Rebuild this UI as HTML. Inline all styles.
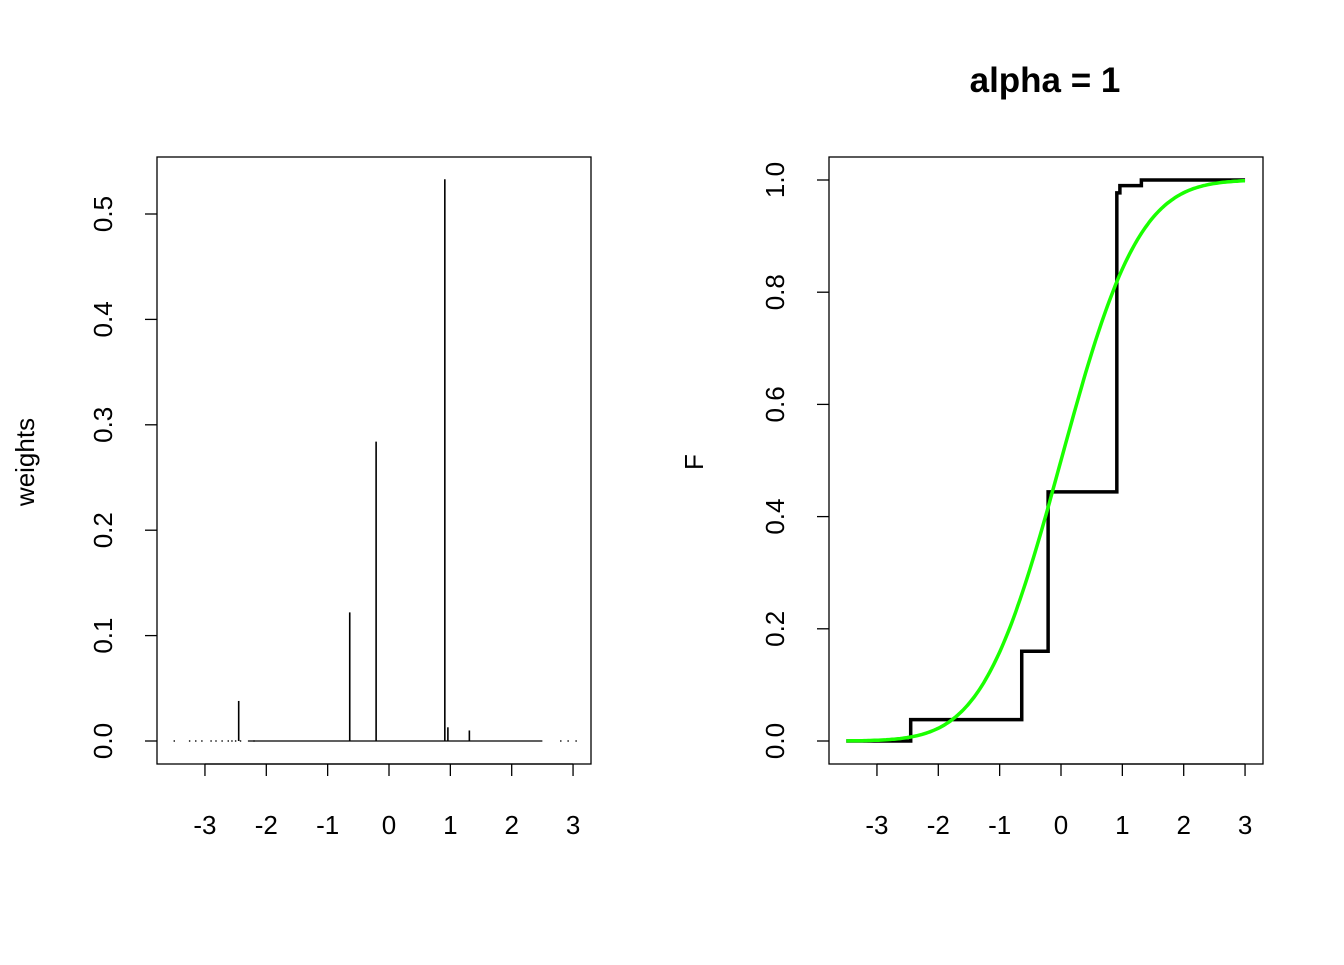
<!DOCTYPE html>
<html><head><meta charset="utf-8"><style>body{margin:0;background:#fff}svg text{font-family:"Liberation Sans",sans-serif}</style></head>
<body>
<svg id="c" width="1344" height="960" xmlns="http://www.w3.org/2000/svg"></svg>
<script>
const atomX=[-2.45,-0.64,-0.21,0.91,0.96,1.31];
const atomW=[0.038,0.122,0.284,0.533,0.013,0.010];
const dotX=[-3.5,-3.25,-3.15,-3.05,-2.9,-2.82,-2.72,-2.62,-2.56,-2.5,-2.42,-2.2,2.8,2.92,3.05];
const xTicks=[-3,-2,-1,0,1,2,3];
const yTicksL=[0,0.1,0.2,0.3,0.4,0.5];
const yTicksR=[0,0.2,0.4,0.6,0.8,1.0];
const NS="http://www.w3.org/2000/svg",svg=document.getElementById('c');
function el(t,a,p){const e=document.createElementNS(NS,t);for(const k in a)e.setAttribute(k,a[k]);(p||svg).appendChild(e);return e;}
function erf(x){const s=Math.sign(x);x=Math.abs(x);const t=1/(1+0.3275911*x);const y=1-(((((1.061405429*t-1.453152027)*t)+1.421413741)*t-0.284496736)*t+0.254829592)*t*Math.exp(-x*x);return s*y;}
function pnorm(x){return 0.5*(1+erf(x/Math.SQRT2));}
function axes(p,yTicks,dec,prefix,ylab,ylabX){
  let r=el('rect',{x:p.L,y:p.T,width:p.R-p.L,height:p.B-p.T,fill:'none',stroke:'#000','stroke-width':1.3});
  
  xTicks.forEach(v=>{const x=p.sx(v);
    let l=el('line',{x1:x,x2:x,y1:764,y2:776,stroke:'#000','stroke-width':1.3});
    let t=el('text',{x:x,y:834,'text-anchor':'middle','font-size':26});t.textContent=v;});
  let xl=el('line',{x1:p.sx(-3),x2:p.sx(3),y1:764,y2:764,stroke:'#000','stroke-width':1.3});
  yTicks.forEach(v=>{const y=p.sy(v);
    let l=el('line',{x1:p.L-12,x2:p.L,y1:y,y2:y,stroke:'#000','stroke-width':1.3});
    let t=el('text',{x:p.L-45,y:y,'text-anchor':'middle','font-size':26,transform:`rotate(-90 ${p.L-45} ${y})`});t.textContent=v.toFixed(1);});
  let yt=el('text',{x:ylabX,y:462,'text-anchor':'middle','font-size':26,transform:`rotate(-90 ${ylabX} 462)`});yt.textContent=ylab;
}
const pL={L:157,R:591,T:157,B:764,sx:v=>389+v*61.35,sy:v=>741-v/0.5*527};
axes(pL,yTicksL,1,'left','weights',34);
dotX.forEach(v=>{let d=el('rect',{x:pL.sx(v)-0.7,y:740.3,width:1.4,height:1.4,fill:'#000'});});
let base=el('line',{x1:pL.sx(-2.3),x2:pL.sx(2.5),y1:741,y2:741,stroke:'#000','stroke-width':1.3});
atomX.forEach((v,i)=>{let l=el('line',{x1:pL.sx(v),x2:pL.sx(v),y1:pL.sy(0),y2:pL.sy(atomW[i]),stroke:'#000','stroke-width':1.6});});
const pR={L:829,R:1263,T:157,B:764,sx:v=>1061+v*61.35,sy:v=>741-v*561};
axes(pR,yTicksR,1,'right','F',703);
let tt=el('text',{x:1045,y:92,'text-anchor':'middle','font-size':35,'font-weight':'bold'});tt.textContent='alpha = 1';
let cum=0,d=`M${pR.sx(-3.5)},${pR.sy(0)}`;
atomX.forEach((v,i)=>{d+=` H${pR.sx(v)}`;cum+=atomW[i];d+=` V${pR.sy(cum)}`;});
d+=` H${pR.sx(3)}`;
let st=el('path',{d:d,fill:'none',stroke:'#000','stroke-width':3.5});
let g='';for(let i=0;i<=200;i++){const x=-3.5+6.5*i/200;g+=(i?' L':'M')+pR.sx(x).toFixed(1)+','+pR.sy(pnorm(x)).toFixed(1);}
let gc=el('path',{d:g,fill:'none',stroke:'#1aff00','stroke-width':3.5});
</script>
</body></html>
